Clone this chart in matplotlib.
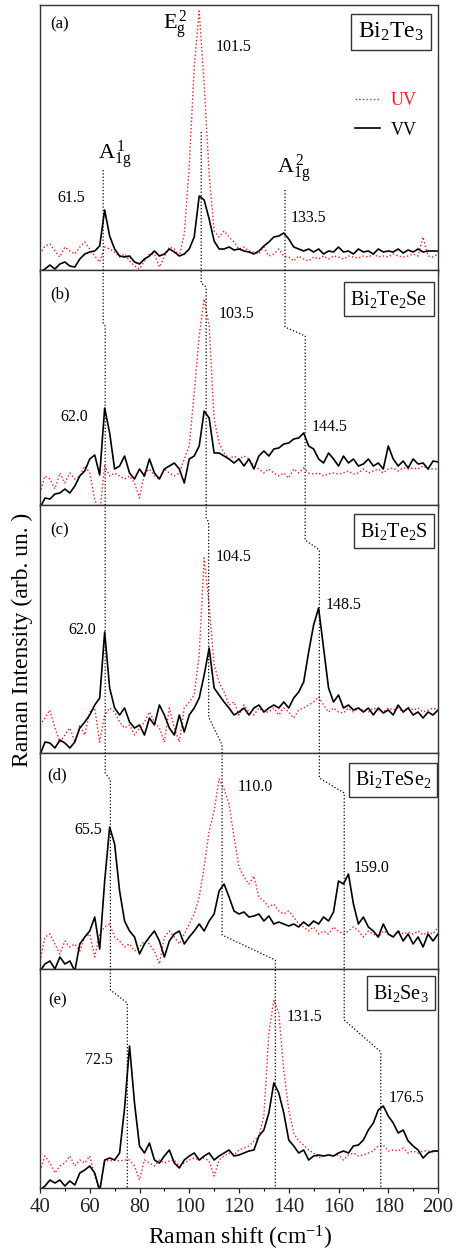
import numpy as np
import matplotlib
matplotlib.use('Agg')
import matplotlib.pyplot as plt
from matplotlib.lines import Line2D
from matplotlib.transforms import blended_transform_factory
from matplotlib.ticker import MultipleLocator

plt.rcParams['font.family'] = 'Liberation Serif'
plt.rcParams['mathtext.fontset'] = 'custom'
plt.rcParams['mathtext.rm'] = 'Liberation Serif'
plt.rcParams['mathtext.it'] = 'Liberation Serif:italic'

# Raman shift grid (cm-1)
shift = np.arange(40, 201, 2)

# (a) Bi2Te3
vv_a = [-2, 1, 5, 1, 6, 8, 4, 3, 11, 16,
        18, 19, 24, 60, 34, 21, 14, 13, 14, 8,
        6, 11, 14, 19, 14, 16, 21, 18, 14, 16,
        21, 33, 74, 70, 51, 29, 21, 21, 23, 20,
        21, 19, 18, 16, 19, 24, 28, 33, 34, 37,
        31, 23, 21, 19, 21, 18, 21, 16, 19, 18,
        23, 18, 19, 16, 21, 18, 19, 16, 21, 18,
        19, 18, 21, 17, 20, 18, 21, 18, 19, 19,
        19]
uv_a = [16, 24, 26, 19, 13, 23, 19, 16, 23, 28,
        21, 14, 8, 23, 21, 18, 13, 16, 9, 4,
        1, 9, 16, 16, 3, 13, 23, 21, 14, 36,
        103, 203, 259, 186, 96, 39, 33, 39, 33, 28,
        21, 23, 19, 18, 16, 23, 14, 16, 21, 14,
        13, 9, 14, 11, 9, 13, 11, 14, 11, 14,
        13, 11, 14, 13, 12, 14, 13, 16, 13, 14,
        13, 16, 14, 13, 14, 16, 14, 33, 14, 13,
        16]

# (b) Bi2Te2Se
vv_b = [-3, 7, 6, 11, 12, 16, 12, 19, 29, 34,
        46, 50, 30, 97, 72, 36, 39, 49, 32, 26,
        36, 29, 46, 32, 26, 36, 39, 42, 36, 22,
        46, 49, 59, 94, 87, 52, 52, 49, 46, 42,
        46, 39, 46, 36, 49, 54, 49, 56, 57, 61,
        62, 66, 67, 72, 59, 56, 46, 42, 52, 46,
        39, 49, 42, 46, 39, 41, 46, 39, 42, 36,
        59, 46, 39, 44, 37, 46, 41, 42, 36, 44,
        43]
uv_b = [12, 29, 26, 16, 32, 22, 32, 26, 29, 39,
        32, 6, -8, 39, 29, 32, 29, 26, 29, 22,
        7, 32, 36, 29, 26, 36, 32, 29, 32, 46,
        59, 112, 169, 206, 179, 86, 62, 52, 46, 49,
        46, 49, 46, 39, 36, 32, 36, 32, 29, 32,
        27, 36, 32, 37, 32, 31, 32, 29, 31, 32,
        31, 32, 34, 31, 32, 36, 32, 34, 36, 32,
        36, 37, 34, 37, 36, 37, 36, 39, 36, 36,
        36]

# (c) Bi2Te2S
vv_c = [-2, 11, 10, 5, 13, 10, 5, 11, 25, 31,
        38, 48, 55, 121, 65, 45, 38, 45, 31, 25,
        28, 18, 35, 28, 48, 38, 25, 18, 38, 21,
        38, 45, 55, 78, 105, 65, 58, 51, 45, 38,
        41, 45, 38, 45, 48, 41, 45, 48, 45, 51,
        45, 55, 61, 71, 101, 128, 145, 105, 65, 51,
        58, 45, 48, 43, 45, 41, 45, 38, 45, 40,
        43, 38, 48, 41, 45, 38, 41, 35, 41, 38,
        43]
uv_c = [28, 35, 43, 25, 11, 18, 25, 11, 28, 18,
        41, 45, 11, 38, 45, 41, 31, 25, 28, 18,
        25, 31, 41, 31, 25, 11, 45, 25, 11, 45,
        51, 58, 98, 195, 148, 88, 71, 61, 48, 51,
        38, 48, 41, 38, 45, 41, 41, 45, 38, 45,
        41, 35, 43, 45, 48, 51, 56, 48, 41, 45,
        41, 40, 45, 41, 45, 43, 41, 45, 43, 41,
        45, 43, 45, 41, 46, 43, 45, 41, 43, 45,
        43]

# (d) Bi2TeSe2
vv_d = [-2, 5, 8, 0, 12, 5, 8, -2, 25, 32,
        38, 52, 20, 88, 142, 125, 78, 48, 38, 32,
        15, 25, 32, 38, 28, 12, 28, 35, 38, 25,
        32, 38, 45, 38, 48, 55, 78, 85, 72, 58,
        55, 57, 52, 53, 55, 48, 53, 45, 47, 45,
        43, 45, 42, 47, 43, 48, 45, 52, 48, 57,
        88, 85, 95, 65, 45, 52, 42, 38, 32, 45,
        35, 32, 38, 28, 35, 25, 32, 22, 35, 28,
        35]
uv_d = [8, 32, 35, 25, 15, 28, 22, 25, 18, 32,
        35, 12, 35, 42, 45, 32, 28, 22, 25, 18,
        22, 28, 25, 18, 5, 32, 38, 32, 25, 35,
        45, 55, 72, 102, 138, 158, 190, 180, 165, 132,
        102, 92, 85, 93, 72, 68, 62, 65, 58, 55,
        58, 52, 45, 42, 38, 42, 35, 38, 35, 42,
        38, 35, 38, 42, 38, 32, 38, 35, 32, 38,
        35, 32, 38, 35, 37, 35, 38, 34, 37, 35,
        42]

# (e) Bi2Se3
vv_e = [-2, 2, 8, 5, 8, 2, 7, 3, 15, 18,
        22, 15, -3, 28, 30, 28, 35, 80, 142, 85,
        42, 35, 45, 28, 25, 32, 38, 25, 20, 28,
        32, 35, 28, 32, 35, 28, 32, 35, 38, 32,
        33, 35, 37, 38, 52, 58, 75, 105, 95, 75,
        48, 42, 35, 38, 28, 32, 33, 32, 33, 32,
        35, 37, 35, 42, 43, 48, 58, 65, 78, 82,
        72, 65, 55, 58, 47, 42, 38, 30, 35, 37,
        37]
uv_e = [17, 32, 25, 15, 22, 25, 32, 22, 28, 25,
        32, 12, -3, 28, 27, 28, 27, 28, 28, 22,
        8, 28, 25, 22, 28, 25, 27, 28, 22, 25,
        28, 30, 28, 30, 27, 12, 28, 32, 35, 33,
        38, 40, 42, 47, 52, 72, 155, 188, 175, 118,
        78, 55, 47, 43, 38, 35, 30, 32, 33, 32,
        33, 28, 33, 35, 32, 33, 35, 37, 42, 43,
        37, 38, 37, 40, 35, 37, 35, 37, 37, 36,
        37]

vv_all = [vv_a, vv_b, vv_c, vv_d, vv_e]
uv_all = [uv_a, uv_b, uv_c, uv_d, uv_e]
tags = ['(a)', '(b)', '(c)', '(d)', '(e)']
compounds = ['Bi$_2$Te$_3$', 'Bi$_2$Te$_2$Se', 'Bi$_2$Te$_2$S',
             'Bi$_2$TeSe$_2$', 'Bi$_2$Se$_3$']
peak_labels = [['61.5', '101.5', '133.5'], ['62.0', '103.5', '144.5'],
               ['62.0', '104.5', '148.5'], ['65.5', '110.0', '159.0'],
               ['72.5', '131.5', '176.5']]
# mode positions followed by the guide lines, one column per panel
mode_A1 = [65.4, 66.2, 66.2, 68.3, 75.1]
mode_E = [104.8, 106.8, 107.8, 113.2, 134.6]
mode_A2 = [138.5, 146.6, 152.3, 162.3, 177.0]

# layout (pixels)
W, H = 458, 1256
panels_px = [(5, 270), (270, 505), (505, 753), (753, 969), (969, 1188)]
ax_left, ax_right = 40, 438


def fy(p):
    return 1 - p / H


def fx(p):
    return p / W


fig = plt.figure(figsize=(W / 100, H / 100), dpi=100)
axes = []
for i, (top, bot) in enumerate(panels_px):
    ax = fig.add_axes([fx(ax_left), fy(bot), fx(ax_right - ax_left), (bot - top) / H])
    ax.plot(shift, uv_all[i], color='#ff1a1a', ls=':', lw=1.0, label='UV')
    ax.plot(shift, vv_all[i], color='black', lw=1.2, label='VV')
    ax.set_xlim(40, 200)
    ax.set_ylim(0, bot - top)
    ax.set_yticks([])
    ax.xaxis.set_major_locator(MultipleLocator(20))
    ax.xaxis.set_minor_locator(MultipleLocator(10))
    ax.tick_params(axis='x', which='major', direction='out', length=3.5, width=0.9,
                   pad=3.5, labelsize=15, colors='#222222')
    ax.tick_params(axis='x', which='minor', direction='out', length=2, width=0.8)
    if i < 4:
        ax.tick_params(axis='x', labelbottom=False)
    for s in ax.spines.values():
        s.set_linewidth(1.0)
        s.set_color('#333333')
    axes.append(ax)

trans = blended_transform_factory(axes[4].transData, fig.transFigure)

# panel tags
tag_pos = [(50, 24), (50, 294), (50, 530), (47, 775), (48, 1000)]
for i, (px, py) in enumerate(tag_pos):
    fig.text(fx(px), fy(py), tags[i], fontsize=12, ha='left', va='center')

# compound boxes
box_pos = [(391, 32), (389, 299), (394, 531), (393, 780), (401, 993)]
box_size = [17, 14.5, 14.5, 14.5, 14.5]
for i, (px, py) in enumerate(box_pos):
    fig.text(fx(px), fy(py), compounds[i], fontsize=box_size[i], ha='center', va='center',
             bbox=dict(boxstyle='square,pad=0.3', fc='white', ec='#333333', lw=1.0))

# peak labels: (x in cm-1, y in px)
label_pos = [[(52.4, 198), (117.8, 47), (148.1, 218)],
             [(53.6, 417), (119.2, 314), (156.5, 427)],
             [(57.0, 630), (118.0, 557), (162.1, 605)],
             [(59.4, 830), (126.4, 787), (173.3, 868)],
             [(63.5, 1060), (146.5, 1017), (187.4, 1098)]]
for i in range(5):
    for j in range(3):
        x, py = label_pos[i][j]
        fig.text(x, fy(py), peak_labels[i][j], transform=trans, fontsize=11.5,
                 ha='center', va='center')

# mode names
fig.text(94.5, fy(25), r'$\mathrm{E}_\mathrm{g}^{\,2}$', transform=trans, fontsize=16,
         ha='center', va='center')
fig.text(70.0, fy(155), r'$\mathrm{A}_\mathrm{1g}^{\,1}$', transform=trans, fontsize=16,
         ha='center', va='center')
fig.text(141.8, fy(169), r'$\mathrm{A}_\mathrm{1g}^{\,2}$', transform=trans, fontsize=16,
         ha='center', va='center')

# guide lines linking the same mode across panels
guides = [(mode_A1, 170, [(323, 326), (430, 430), (773, 780), (990, 1003)]),
          (mode_E, 132, [(283, 287), (518, 522), (717, 745), (935, 960)]),
          (mode_A2, 190, [(327, 336), (540, 550), (778, 793), (1020, 1052)])]
for modes, start, kinks in guides:
    xs = [modes[0]]
    ys = [start]
    for k, (y0, y1) in enumerate(kinks):
        xs += [modes[k], modes[k + 1]]
        ys += [y0, y1]
    xs.append(modes[4])
    ys.append(panels_px[4][1])
    fig.add_artist(Line2D(xs, [fy(v) for v in ys], transform=trans, color='black',
                          ls=':', lw=0.9))

# legend in panel (a)
axes[0].legend(loc='upper left', bbox_to_anchor=(fx(355), fy(92)), bbox_transform=fig.transFigure,
               frameon=False, fontsize=13, handlelength=1.4, handletextpad=0.6,
               labelspacing=0.7, borderpad=0, borderaxespad=0, labelcolor=['#ff1a1a', 'black'])

fig.text(fx(22), fy(640), 'Raman Intensity (arb. un. )', rotation=90, fontsize=17,
         ha='center', va='center')
fig.text(fx(240), fy(1238), 'Raman shift (cm$^{-1}$)', fontsize=17, ha='center', va='center')

fig.savefig('out.png', dpi=100)
